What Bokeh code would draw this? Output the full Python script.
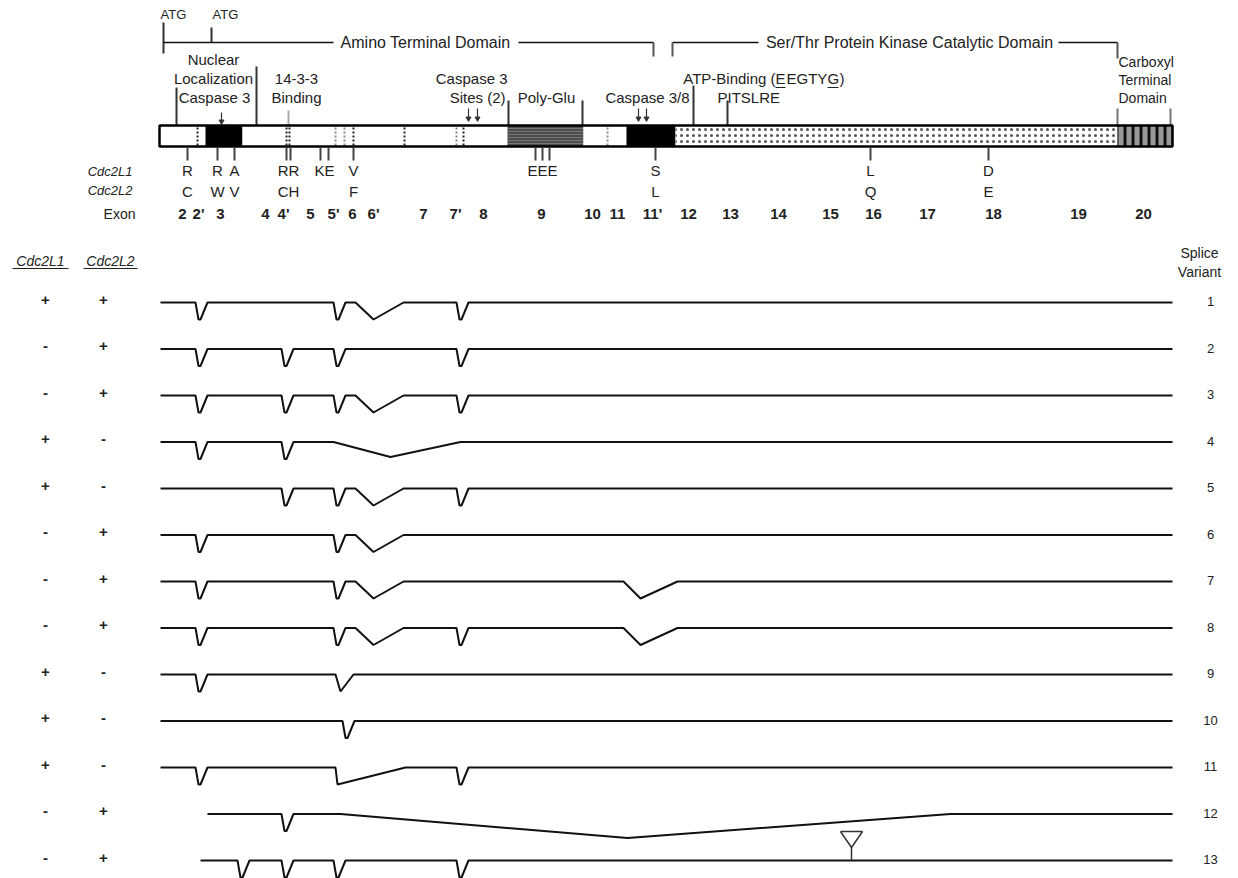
from bokeh.plotting import figure
from bokeh.models import Range1d
from bokeh.core.properties import value
from bokeh.embed import file_html
from bokeh.resources import INLINE

FONT = value("Liberation Sans")
FS = "15px"
TC = "#222222"

# ---------------- data ----------------
# exon map (gene coordinate along the protein bar)
exon_labels = ["2", "2'", "3", "4", "4'", "5", "5'", "6", "6'", "7", "7'", "8", "9",
               "10", "11", "11'", "12", "13", "14", "15", "16", "17", "18", "19", "20"]
exon_pos = [182, 198, 220, 265, 283, 310, 333, 352, 373, 423, 455, 483, 541,
            592, 617, 652, 688, 730, 778, 830, 873, 927, 993, 1078, 1143]

# protein bar regions
bar_start = [159, 205, 242, 507, 583, 626, 675, 1117]
bar_end = [205, 242, 507, 583, 626, 675, 1117, 1172]
bar_kind = ["plain", "caspase", "plain", "polyglu", "plain", "caspase", "kinase", "carboxyl"]
exon_boundaries = [197, 286, 289, 335, 344, 353, 404, 456, 463, 607]
boundary_dark = [1, 1, 1, 0, 0, 1, 1, 0, 1, 0]

# domains
domain_names = ["Amino Terminal Domain", "Ser/Thr Protein Kinase Catalytic Domain"]
domain_start = [163, 672]
domain_end = [653, 1117]
atg_pos = [163, 211]

# residue differences Cdc2L1 / Cdc2L2
snp_pos = [187, 217, 234, 288, 324, 353, 542, 655, 870, 988]
snp_l1 = ["R", "R", "A", "RR", "KE", "V", "EEE", "S", "L", "D"]
snp_l2 = ["C", "W", "V", "CH", "", "F", "", "L", "Q", "E"]
snp_ticks = [187, 217, 234, 286, 290, 320, 328, 353, 535, 542, 549, 655, 870, 988]

# splice variants
variant_ids = [str(i) for i in range(1, 14)]
cdc2l1 = ["+", "-", "-", "+", "+", "-", "-", "-", "+", "+", "+", "-", "-"]
cdc2l2 = ["+", "+", "+", "-", "-", "+", "+", "+", "-", "-", "-", "+", "+"]
variant_start = [160, 160, 160, 160, 160, 160, 160, 160, 160, 160, 160, 207, 200]
variant_end = [1172] * 13
# small in-frame deletions (V notches)
variant_notches = [
    [201, 339, 462],
    [201, 287, 339, 462],
    [201, 287, 339, 462],
    [201, 287],
    [287, 339, 462],
    [201, 339],
    [201, 339],
    [201, 339, 462],
    [201],
    [348],
    [201, 462],
    [287],
    [243, 287, 339, 462],
]
# skipped exons: (from, lowest point, to, depth)
variant_skips = [
    [(355, 373, 403, 17)],
    [],
    [(355, 373, 403, 17)],
    [(333, 390, 460, 15)],
    [(355, 373, 403, 17)],
    [(355, 373, 403, 17)],
    [(355, 373, 403, 17), (623, 640, 677, 17)],
    [(355, 373, 403, 17), (623, 640, 677, 17)],
    [(335, 340, 353, 17)],
    [],
    [(335, 337, 405, 17)],
    [(340, 627, 950, 24)],
    [],
]
variant_insertions = [[], [], [], [], [], [], [], [], [], [], [], [], [851]]

# ---------------- figure ----------------
p = figure(width=1222, height=878, x_range=Range1d(0, 1222), y_range=Range1d(878, 0),
           output_backend="svg", toolbar_location=None, min_border=0,
           x_axis_location=None, y_axis_location=None)
p.grid.visible = False
p.outline_line_color = None


def txt(x, y, t, align="center", size=FS, style="normal", color=TC):
    p.text(x=x, y=y, text=t, text_font=FONT, text_font_size=size, text_align=align,
           text_baseline="middle", text_color=color, text_font_style=style)


# domain brackets
txt([160, 212], [14, 14], ["ATG", "ATG"], align="left", size="13px")
p.segment(x0=[atg_pos[0], atg_pos[1]], y0=[22, 27], x1=[atg_pos[0], atg_pos[1]], y1=[53, 42],
          line_color="#333", line_width=2)
p.segment(x0=[domain_start[0], 518, domain_start[1], 1058],
          y0=[42, 42, 42, 42],
          x1=[333, domain_end[0], 758, domain_end[1]],
          y1=[42, 42, 42, 42], line_color="#111", line_width=1.5)
p.segment(x0=[domain_end[0], domain_start[1], domain_end[1]], y0=[42, 42, 42],
          x1=[domain_end[0], domain_start[1], domain_end[1]], y1=[56, 56, 58],
          line_color="#555", line_width=2)
txt([425, 909], [42, 42], domain_names, size="16px")

# labels above the bar
txt([213, 213, 214], [59, 78, 97], ["Nuclear", "Localization", "Caspase 3"])
txt([296, 296], [78, 97], ["14-3-3", "Binding"])
txt([507, 505], [78, 97], ["Caspase 3", "Sites (2)"], align="right")
txt([546], [97], ["Poly-Glu"])
txt([647], [97], ["Caspase 3/8"])
# ATP-binding motif with underlined residues
txt([775], [78], ["ATP-Binding ("], align="right")
txt([775, 786, 827, 839], [78] * 4, ["E", "EGTY", "G", ")"], align="left")
p.segment(x0=[775, 827], y0=[87, 87], x1=[785, 838], y1=[87, 87], line_color=TC, line_width=1)
txt([717], [97], ["PITSLRE"], align="left")
txt([1118, 1118, 1118], [61, 79, 97], ["Carboxyl", "Terminal", "Domain"], align="left", size="14px")

# marker lines above bar
mk_x = [176, 256, 288, 508, 582, 693, 727, 1117, 1170]
mk_y = [87, 66, 110, 100, 100, 85, 100, 108, 108]
mk_c = ["#333", "#333", "#aaa", "#333", "#333", "#333", "#333", "#777", "#777"]
p.segment(x0=mk_x, y0=mk_y, x1=mk_x, y1=[125] * len(mk_x), line_color=mk_c, line_width=2)

# caspase arrows
ar_x = [221, 468, 477, 638, 646]
p.segment(x0=ar_x, y0=[112, 108, 108, 108, 108], x1=ar_x, y1=[121, 118, 118, 118, 118],
          line_color="#333", line_width=1.2)
p.scatter(x=ar_x, y=[121, 118, 118, 118, 118], marker="inverted_triangle", size=5,
          fill_color="#333", line_color="#333")

# protein bar
styles = {
    "plain": dict(fill_color="white", hatch_pattern=None),
    "caspase": dict(fill_color="black", hatch_pattern=None),
    "polyglu": dict(fill_color="#4d4d4d", hatch_pattern="horizontal_line",
                    hatch_color="#8a8a8a", hatch_scale=3, hatch_weight=0.7),
    "kinase": dict(fill_color="white", hatch_pattern="dot",
                   hatch_color="#555", hatch_scale=6, hatch_weight=1.8),
    "carboxyl": dict(fill_color="#9a9a9a", hatch_pattern="vertical_line",
                     hatch_color="#111", hatch_scale=8, hatch_weight=3),
}
for s, e, k in zip(bar_start, bar_end, bar_kind):
    kw = {kk: vv for kk, vv in styles[k].items() if vv is not None}
    p.quad(left=s, right=e, top=125, bottom=146, line_color=None, **kw)
p.segment(x0=exon_boundaries, y0=[127] * len(exon_boundaries), x1=exon_boundaries,
          y1=[145] * len(exon_boundaries),
          line_color=["#222" if d else "#888" for d in boundary_dark],
          line_width=2, line_dash="2 2")
p.quad(left=bar_start[0], right=bar_end[-1], top=125, bottom=146, fill_color=None,
       line_color="black", line_width=2.5)

# residue ticks and letters
p.segment(x0=snp_ticks, y0=[147] * len(snp_ticks), x1=snp_ticks, y1=[160] * len(snp_ticks),
          line_color="#444", line_width=2)
txt(snp_pos, [170] * len(snp_pos), snp_l1)
txt(snp_pos, [191] * len(snp_pos), snp_l2)
txt([132, 132], [171, 190], ["Cdc2L1", "Cdc2L2"], align="right", style="italic", size="13px")

# exon numbers
txt([135], [213], ["Exon"], align="right", size="14px")
p.text(x=exon_pos, y=[213] * len(exon_pos), text=exon_labels, text_font=FONT,
       text_font_size=FS, text_align="center", text_baseline="middle",
       text_color=TC, text_font_style="bold")

# splice variant section headers
txt([40, 110], [260, 260], ["Cdc2L1", "Cdc2L2"], style="italic", size="14px")
p.segment(x0=[12, 83], y0=[268, 268], x1=[68, 137], y1=[268, 268], line_color=TC, line_width=1)
txt([1199, 1199], [252, 271], ["Splice", "Variant"], size="14px")

row_y = [302 + 46.5 * i for i in range(len(variant_ids))]
NOTCH = 17


def variant_path(start, end, y, notches, skips):
    events = [(c, "n", None) for c in notches] + [(s[0], "s", s) for s in skips]
    events.sort(key=lambda e: e[0])
    xs, ys = [start], [y]
    for pos, kind, s in events:
        if kind == "n":
            pts = [(pos - 6, 0), (pos - 3, NOTCH), (pos - 1, NOTCH), (pos + 6, 0)]
        else:
            a, b, c, d = s
            pts = [(a, 0), (b, d), (c, 0)]
        for px, dy in pts:
            xs.append(px)
            ys.append(y + dy)
    xs.append(end)
    ys.append(y)
    return xs, ys


all_x, all_y = [], []
for i in range(len(variant_ids)):
    xs, ys = variant_path(variant_start[i], variant_end[i], row_y[i],
                          variant_notches[i], variant_skips[i])
    all_x.append(xs)
    all_y.append(ys)
p.multi_line(xs=all_x, ys=all_y, line_color="#111", line_width=2)

# insertion marker(s)
for i, ins in enumerate(variant_insertions):
    for c in ins:
        y = row_y[i]
        p.line(x=[c - 11, c + 11, c, c - 11], y=[y - 29, y - 29, y - 13, y - 29],
               line_color="#333", line_width=1.5)
        p.segment(x0=[c], y0=[y - 13], x1=[c], y1=[y], line_color="#333", line_width=1.5)

txt([45] * 13, [y - 3 for y in row_y], cdc2l1, size="15px", style="bold")
txt([103] * 13, [y - 3 for y in row_y], cdc2l2, size="15px", style="bold")
txt([1210] * 13, [y - 1 for y in row_y], variant_ids, size="13px")

open("out.html", "w").write(file_html(p, INLINE))
